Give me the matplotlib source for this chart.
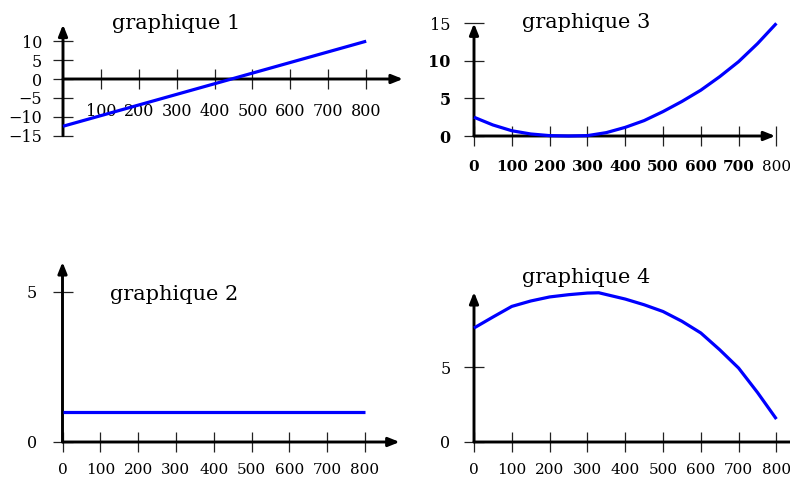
import matplotlib
matplotlib.use("Agg")
import matplotlib.pyplot as plt

# ---------------- data ----------------
g1_x = [0, 800]
g1_y = [-12.5, 10]

g2_x = [0, 800]
g2_y = [1, 1]

g3_x = [0, 50, 100, 150, 200, 250, 300, 350, 400, 450, 500, 550, 600, 650, 700, 750, 800]
g3_y = [2.5, 1.47, 0.7, 0.27, 0.05, 0.0, 0.05, 0.45, 1.15, 2.05, 3.25, 4.6, 6.1, 7.9, 9.9, 12.3, 15.0]

g4_x = [0, 50, 100, 150, 200, 250, 300, 330, 400, 450, 500, 550, 600, 650, 700, 750, 800]
g4_y = [7.6, 8.33, 9.04, 9.4, 9.67, 9.82, 9.93, 9.95, 9.53, 9.15, 8.7, 8.05, 7.27, 6.15, 4.93, 3.3, 1.53]

g1_xticks = [100, 200, 300, 400, 500, 600, 700, 800]
g1_yticks = [-15, -10, -5, 0, 5, 10]
g1_ylabels = ["\u221215", "\u221210", "\u22125", "0", "5", "10"]
full_xticks = [0, 100, 200, 300, 400, 500, 600, 700, 800]
g2_yticks = [0, 5]
g3_yticks = [0, 5, 10, 15]
g4_yticks = [0, 5]

titles = ["graphique 1", "graphique 2", "graphique 3", "graphique 4"]

# ---------------- figure ----------------
W, H = 790, 480
plt.rcParams['font.family'] = ['DejaVu Serif']
fig = plt.figure(figsize=(W / 100, H / 100), dpi=100)

BLUE = (0, 0, 1)


def make_axes(ox, oy, sx, sy, xlim, ylim):
    left = (ox + xlim[0] * sx) / W
    width = (xlim[1] - xlim[0]) * sx / W
    bottom = 1 - (oy - ylim[0] * sy) / H
    height = (ylim[1] - ylim[0]) * sy / H
    ax = fig.add_axes([left, bottom, width, height])
    ax.set_xlim(*xlim)
    ax.set_ylim(*ylim)
    ax.patch.set_visible(False)
    for s in ax.spines.values():
        s.set_visible(False)
    ax.spines['left'].set_position(('data', 0))
    ax.spines['bottom'].set_position(('data', 0))
    ax.tick_params(direction='inout', length=15, width=0.9, color='#222222',
                   labelsize=11.5, top=False, right=False)
    return ax


def draw_axes(ax, xend, ystart, yend):
    ap = dict(arrowstyle='-|>,head_length=0.55,head_width=0.22', lw=2.1,
              color='black', shrinkA=0, shrinkB=0, mutation_scale=12)
    ax.annotate('', xy=(xend, 0), xytext=(0, 0), arrowprops=ap,
                annotation_clip=False, zorder=2)
    ax.annotate('', xy=(0, yend), xytext=(0, ystart), arrowprops=ap,
                annotation_clip=False, zorder=2)


# graphique 1
ax1 = make_axes(63, 79, 0.379, 3.78, (-170, 960), (-18, 16))
draw_axes(ax1, 897, -15, 14.4)
ax1.plot(g1_x, g1_y, color=BLUE, lw=2.3, zorder=3, solid_capstyle='butt')
ax1.set_xticks(g1_xticks)
ax1.set_xticklabels([str(v) for v in g1_xticks])
ax1.set_yticks(g1_yticks)
ax1.set_yticklabels(g1_ylabels)
ax1.tick_params(axis='x', pad=9.5)
ax1.tick_params(axis='y', pad=7.5)

# graphique 2
ax2 = make_axes(62.5, 442, 0.378, 30, (-170, 960), (-1.5, 6.8))
draw_axes(ax2, 892, 0, 6.0)
ax2.plot(g2_x, g2_y, color=BLUE, lw=2.3, zorder=3, solid_capstyle='butt')
ax2.set_xticks(full_xticks)
ax2.set_xticklabels([str(v) for v in full_xticks], fontsize=11)
ax2.set_yticks(g2_yticks)
ax2.set_yticklabels([str(v) for v in g2_yticks])
ax2.tick_params(axis='x', pad=7.5)
ax2.tick_params(axis='y', pad=11)

# graphique 3
ax3 = make_axes(474, 136, 0.378, 7.51, (-130, 900), (-7, 17))
draw_axes(ax3, 797, 0, 15)
ax3.plot(g3_x, g3_y, color=BLUE, lw=2.3, zorder=3, solid_capstyle='butt')
ax3.set_xticks(full_xticks)
ax3.set_xticklabels([str(v) for v in full_xticks], fontsize=11)
ax3.set_yticks(g3_yticks)
ax3.set_yticklabels([str(v) for v in g3_yticks])
ax3.tick_params(axis='x', pad=9.5)
ax3.tick_params(axis='y', pad=9.5)
for lab in ax3.get_xticklabels()[:-1]:
    lab.set_fontweight('bold')
for lab in ax3.get_yticklabels()[:-1]:
    lab.set_fontweight('bold')

# graphique 4
ax4 = make_axes(474, 442, 0.378, 15, (-130, 900), (-3, 11.5))
draw_axes(ax4, 900, 0, 10.0)
ax4.plot(g4_x, g4_y, color=BLUE, lw=2.3, zorder=3, solid_capstyle='butt')
ax4.set_xticks(full_xticks)
ax4.set_xticklabels([str(v) for v in full_xticks], fontsize=11)
ax4.set_yticks(g4_yticks)
ax4.set_yticklabels([str(v) for v in g4_yticks])
ax4.tick_params(axis='x', pad=7.5)
ax4.tick_params(axis='y', pad=9.5)

# titles
title_pos = [(112, 29), (110, 300), (522, 28), (522, 283)]
for t, (px, py) in zip(titles, title_pos):
    fig.text(px / W, 1 - py / H, t, fontsize=15, ha='left', va='baseline')

fig.savefig("out.png", dpi=100)
